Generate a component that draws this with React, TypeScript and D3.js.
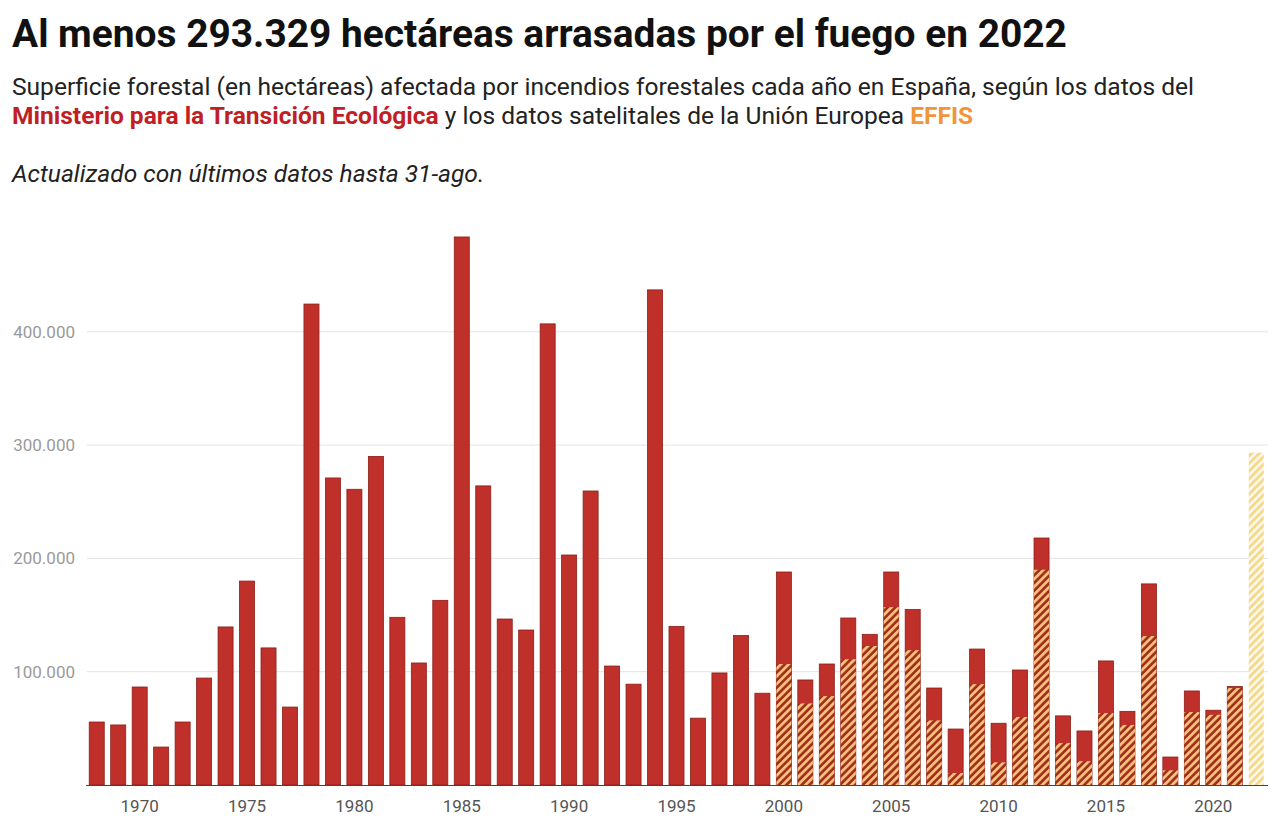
import React from "react";
import * as d3 from "d3";

const years: number[] = d3.range(1968, 2023);
// Ministerio para la Transición Ecológica (hectáreas), 1968–2021
const ministerio: (number | null)[] = [
  55600, 53000, 86500, 33500, 55600, 94400, 139500, 180000, 121000, 68800,
  424500, 271000, 261000, 290000, 148000, 107700, 163000, 483700, 264000, 146500,
  136800, 407000, 203000, 259500, 105000, 89000, 437000, 140000, 59000, 98900,
  132000, 81000, 188000, 92700, 106800, 147400, 133000, 188000, 155000, 85600,
  49400, 120000, 54500, 101500, 218000, 61000, 47700, 109500, 65000, 177500,
  24700, 83000, 66000, 87000, null,
];
// EFFIS satellite data (hectáreas), 2000–2022
const effisYears: number[] = d3.range(2000, 2023);
const effis: number[] = [
  106800, 72000, 78500, 111000, 122700, 157000, 119000, 57000, 10600, 89000,
  20000, 60000, 190000, 37000, 21000, 63500, 53000, 131500, 13000, 64400,
  62000, 85600, 293329,
];
const yTicks: number[] = [100000, 200000, 300000, 400000];
const xTicks: number[] = [1970, 1975, 1980, 1985, 1990, 1995, 2000, 2005, 2010, 2015, 2020];

const W = 1280;
const H = 837;
const FONT = "Roboto, 'Noto Sans', sans-serif";

export default function App() {
  const x = d3
    .scaleBand<number>()
    .domain(years)
    .range([86, 1267])
    .paddingInner(0.3)
    .paddingOuter(0.15);
  const y = d3.scaleLinear().domain([0, 500000]).range([785, 218.5]);
  const fmt = (v: number) => d3.format(",")(v).replace(/,/g, ".");
  const bw = x.bandwidth();

  return (
    <svg
      width={W}
      height={H}
      style={{ position: "absolute", left: 0, top: 0, background: "#fff", fontFamily: FONT }}
    >
      <defs>
        <pattern id="hatch" width="5.4" height="5.4" patternUnits="userSpaceOnUse" patternTransform="rotate(45)">
          <rect width="5.4" height="5.4" fill="#9e2d1a" />
          <rect width="2.8" height="5.4" fill="#f8bf7d" />
        </pattern>
        <pattern id="hatch22" width="5.4" height="5.4" patternUnits="userSpaceOnUse" patternTransform="rotate(45)">
          <rect width="5.4" height="5.4" fill="#fdf8ea" />
          <rect width="2.8" height="5.4" fill="#f3d98c" />
        </pattern>
      </defs>
      <rect width={W} height={H} fill="#ffffff" />

      <text x={12} y={47} fontSize={38.9} fontWeight={700} fill="#111">
        Al menos 293.329 hectáreas arrasadas por el fuego en 2022
      </text>
      <text x={12} y={95} fontSize={24.55} fill="#222">
        Superficie forestal (en hectáreas) afectada por incendios forestales cada año en España, según los datos del
      </text>
      <text x={12} y={124} fontSize={24.55} fill="#222">
        <tspan fontWeight={700} fill="#c01f25">Ministerio para la Transición Ecológica</tspan>
        <tspan> y los datos satelitales de la Unión Europea </tspan>
        <tspan fontWeight={700} fill="#f0953a">EFFIS</tspan>
      </text>
      <text x={12} y={182} fontSize={24.55} fontStyle="italic" fill="#222">
        Actualizado con últimos datos hasta 31-ago.
      </text>

      {yTicks.map((t) => (
        <g key={t}>
          <line x1={87} x2={1268} y1={y(t)} y2={y(t)} stroke="#e3e3e6" strokeWidth={1} />
          <text x={75} y={y(t)} dy="0.35em" textAnchor="end" fontSize={17} fill="#9a9a9a">
            {fmt(t)}
          </text>
        </g>
      ))}

      {years.map((yr, i) => {
        const v = ministerio[i];
        if (v == null) return null;
        return (
          <rect
            key={"m" + yr}
            x={x(yr)}
            y={y(v)}
            width={bw}
            height={y(0) - y(v)}
            fill="#c0302a"
            stroke="#8c1f18"
            strokeWidth={0.8}
          />
        );
      })}

      {effisYears.map((yr, i) => {
        const v = effis[i];
        return (
          <rect
            key={"e" + yr}
            x={x(yr)}
            y={y(v)}
            width={bw}
            height={y(0) - y(v)}
            fill={yr === 2022 ? "url(#hatch22)" : "url(#hatch)"}
          />
        );
      })}

      <line x1={86} x2={1268} y1={785.5} y2={785.5} stroke="#444" strokeWidth={1} />

      {xTicks.map((t) => (
        <text
          key={t}
          x={(x(t) ?? 0) + bw / 2}
          y={812}
          textAnchor="middle"
          fontSize={17}
          fill="#555"
        >
          {t}
        </text>
      ))}
    </svg>
  );
}
